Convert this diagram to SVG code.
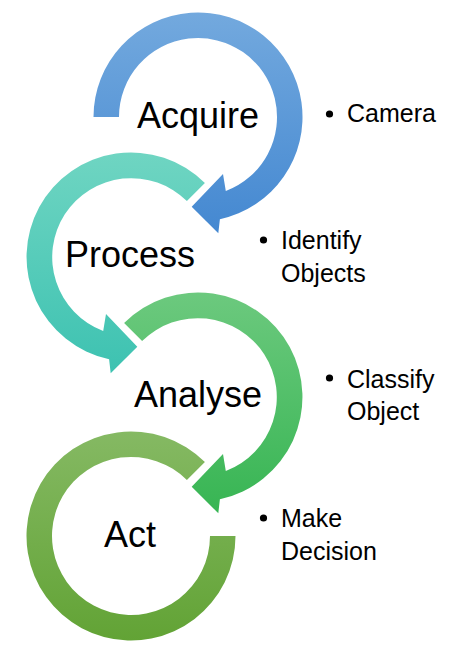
<svg xmlns="http://www.w3.org/2000/svg" width="469" height="653" viewBox="0 0 469 653">
<defs>
<linearGradient id="gBlue" x1="0" y1="0" x2="0" y2="1"><stop offset="0" stop-color="#73a9de"/><stop offset="1" stop-color="#4488d1"/></linearGradient>
<linearGradient id="gTeal" x1="0" y1="0" x2="0" y2="1"><stop offset="0" stop-color="#6fd5c2"/><stop offset="1" stop-color="#3dc2b1"/></linearGradient>
<linearGradient id="gGreen" x1="0" y1="0" x2="0" y2="1"><stop offset="0" stop-color="#6cc97e"/><stop offset="1" stop-color="#37b553"/></linearGradient>
<linearGradient id="gOlive" x1="0" y1="0" x2="0" y2="1"><stop offset="0" stop-color="#85b963"/><stop offset="1" stop-color="#62a335"/></linearGradient>
</defs>
<style>
.lbl{font-family:"Liberation Sans",Arial,sans-serif;font-size:36px;fill:#000;text-anchor:middle}
.bul{font-family:"Liberation Sans",Arial,sans-serif;font-size:25px;fill:#000}
.dot{fill:#000}
</style>
<rect width="469" height="653" fill="#fff"/>
<g id="connectors"></g>
<g id="acquire">
<path transform="translate(198,117)" fill="url(#gBlue)" d="M -104.5 0 A 104.5 104.5 0 1 1 21.9 102.2 L 20.3 116.3 L -6.3 89.7 L 25 57 L 27.8 74 A 79 79 0 1 0 -79 0 Z"/>
<text class="lbl" x="198" y="128">Acquire</text>
</g>
<g id="process">
<path transform="translate(131,257) scale(-1,1)" fill="url(#gTeal)" d="M -73.9 -73.9 A 104.5 104.5 0 1 1 21.9 102.2 L 20.3 116.3 L -6.3 89.7 L 25 57 L 27.8 74 A 79 79 0 1 0 -55.9 -55.9 Z"/>
<text class="lbl" x="130" y="267">Process</text>
</g>
<g id="analyse">
<path transform="translate(198,397)" fill="url(#gGreen)" d="M -73.9 -73.9 A 104.5 104.5 0 1 1 21.9 102.2 L 20.3 116.3 L -6.3 89.7 L 25 57 L 27.8 74 A 79 79 0 1 0 -55.9 -55.9 Z"/>
<text class="lbl" x="198" y="407">Analyse</text>
</g>
<g id="act">
<path transform="translate(131,536)" fill="url(#gOlive)" d="M 104.5 0 A 104.5 104.5 0 1 1 73.9 -73.9 L 55.9 -55.9 A 79 79 0 1 0 79 0 Z"/>
<text class="lbl" x="130" y="547">Act</text>
</g>
<g id="note-camera">
<circle class="dot" cx="329.5" cy="114" r="3.6"/>
<text class="bul" x="347" y="122">Camera</text>
</g>
<g id="note-identify">
<circle class="dot" cx="263.5" cy="240" r="3.6"/>
<text class="bul" x="281" y="249">Identify</text>
<text class="bul" x="281" y="282">Objects</text>
</g>
<g id="note-classify">
<circle class="dot" cx="329.5" cy="378" r="3.6"/>
<text class="bul" x="347" y="388">Classify</text>
<text class="bul" x="347" y="420">Object</text>
</g>
<g id="note-decision">
<circle class="dot" cx="263.5" cy="518" r="3.6"/>
<text class="bul" x="281" y="527">Make</text>
<text class="bul" x="281" y="560">Decision</text>
</g>
</svg>
